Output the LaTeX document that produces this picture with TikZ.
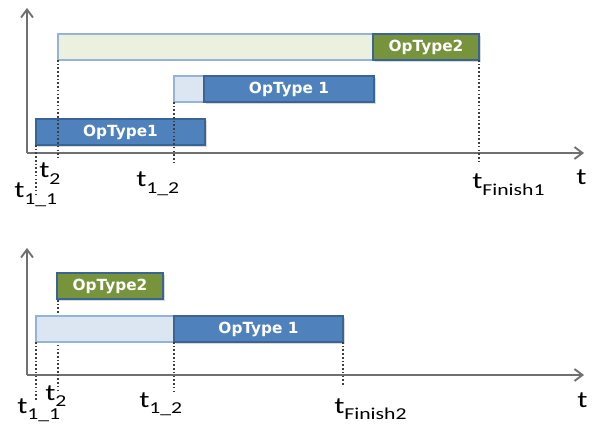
\documentclass[tikz,border=0pt]{standalone}
\usepackage{fontspec}
\setmainfont{Carlito}
\newfontfamily\barfont{DejaVu Sans}
\usepackage{graphicx}
\usetikzlibrary{arrows,arrows.meta,shadows}

\definecolor{opblue}{HTML}{4F81BD}
\definecolor{opblueedge}{HTML}{3A6493}
\definecolor{opgreen}{HTML}{77933C}
\definecolor{lightgreen}{HTML}{EBF1DE}
\definecolor{lightblue}{HTML}{DCE6F2}
\definecolor{lightedge}{HTML}{95B3D7}
\definecolor{axisgray}{HTML}{707070}
\definecolor{guidegray}{HTML}{3F3F3F}

\newcommand{\lbl}[2]{\scalebox{1.3}[1]{t\raisebox{-5pt}{\fontsize{12.5}{12.5}\selectfont #2}}}

\begin{document}
\begin{tikzpicture}[x=0.75pt,y=-0.75pt,
  axis/.style={draw=axisgray, line width=1.4pt, -{Straight Barb[length=6pt,width=9pt]}},
  guide/.style={draw=guidegray, line width=1.5pt, dash pattern=on 1.2pt off 1.6pt},
  w/.style={minimum width=#1*0.75pt},
  bar/.style={anchor=north west, inner sep=0pt, outer sep=0pt, minimum height=19.5pt,
    font=\barfont\bfseries\fontsize{11.5}{11.5}\selectfont, text=white},
  lightbar/.style={bar, draw=lightedge, line width=0.9pt},
  opbar/.style={bar, draw=opblueedge, line width=0.9pt,
    drop shadow={shadow xshift=1.3pt, shadow yshift=-1.3pt, opacity=0.3}},
  tlabel/.style={anchor=base west, inner sep=0pt, font=\fontsize{17.5}{17.5}\selectfont}
]

\useasboundingbox (0,0) rectangle (592,427);

% upper schedule
\coordinate (O1) at (27,153);
\coordinate (Y1) at (27,8);
\coordinate (X1) at (584,153);
\draw[axis] (O1) -- (Y1);
\draw[axis] (O1) -- (X1);

\node[lightbar, fill=lightgreen, w=315] (wait2) at (58,34) {};
\node[opbar, fill=opgreen, w=106] (op2a) at (373,34) {OpType2};
\node[lightbar, fill=lightblue, w=30] (wait1) at (174,76) {};
\node[opbar, fill=opblue, w=170] (op1b) at (204,76) {OpType 1};
\node[opbar, fill=opblue, w=169] (op1a) at (36,119) {OpType1};

\coordinate (g11) at (36,197);
\coordinate (g2) at (58,158);
\coordinate (g12) at (174,162);
\coordinate (gf1) at (479,162);
\draw[guide] (op1a.south west) -- (g11);
\draw[guide] (wait2.south west) -- (g2);
\draw[guide] (wait1.south west) -- (g12);
\draw[guide] (op2a.south east) -- (gf1);

\node[tlabel] (t11a) at (14,198) {\lbl{t}{1\_1}};
\node[tlabel] (t2a) at (39,178) {\lbl{t}{2}};
\node[tlabel] (t12a) at (136,187) {\lbl{t}{1\_2}};
\node[tlabel] (tfa) at (472,189) {\lbl{t}{Finish1}};
\node[tlabel] (ta) at (576,185) {\scalebox{1.3}[1]{t}};

% lower schedule
\coordinate (O2) at (27,375);
\coordinate (Y2) at (27,248);
\coordinate (X2) at (584,375);
\draw[axis] (O2) -- (Y2);
\draw[axis] (O2) -- (X2);

\coordinate (h11) at (36,400);
\coordinate (h2) at (58,393);
\coordinate (h12) at (174,392);
\coordinate (hf2) at (343,385);
\draw[guide] (58,300) -- (h2);

\node[opbar, fill=opgreen, w=106] (op2c) at (57,273) {OpType2};
\node[lightbar, fill=lightblue, w=138] (wait3) at (36,316) {};
\node[opbar, fill=opblue, w=169] (op1c) at (174,316) {OpType 1};

\draw[guide] (wait3.south west) -- (h11);
\draw[guide] (op1c.south west) -- (h12);
\draw[guide] (op1c.south east) -- (hf2);

\node[tlabel] (t2b) at (45,400) {\lbl{t}{2}};
\node[tlabel] (t11b) at (17,413) {\lbl{t}{1\_1}};
\node[tlabel] (t12b) at (139,407) {\lbl{t}{1\_2}};
\node[tlabel] (tfb) at (334,413) {\lbl{t}{Finish2}};
\node[tlabel] (tb) at (577,407) {\scalebox{1.3}[1]{t}};

\end{tikzpicture}
\end{document}
